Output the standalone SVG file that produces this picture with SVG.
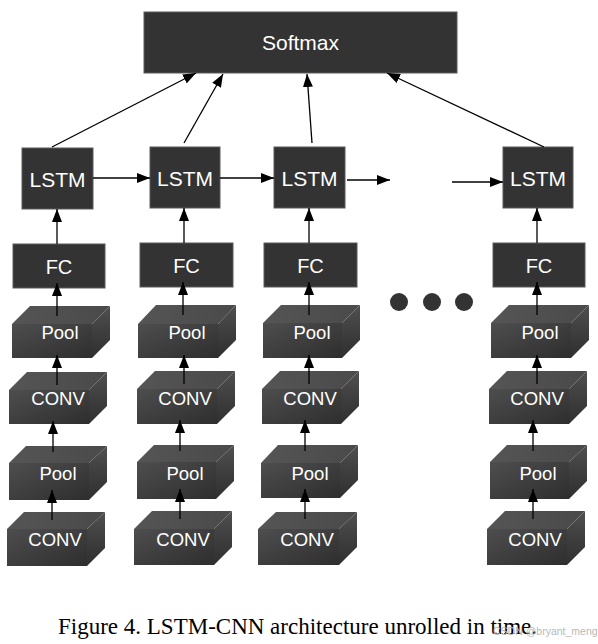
<svg xmlns="http://www.w3.org/2000/svg" width="598" height="644" viewBox="0 0 598 644">
<style>
.box{fill:#333333;stroke:#5a5a5a;stroke-width:1}
.lbl{fill:#ffffff;font-family:"Liberation Sans",Arial,sans-serif;text-anchor:middle}
.big{font-size:21px}
.fc{font-size:20px}
.blk{font-size:18.5px}
.top{fill:url(#gTop)}
.front{fill:url(#gFront)}
.side{fill:url(#gSide)}
.conn line{stroke:#000;stroke-width:1.3;marker-end:url(#ah)}
.dot{fill:#333333}
.cap{font-family:"Liberation Serif","Times New Roman",serif;font-size:23px;fill:#000}
.wm{font-family:"Liberation Sans",Arial,sans-serif;font-size:10.5px;fill:#b8b8b8}
</style>
<defs>
<marker id="ah" markerUnits="userSpaceOnUse" markerWidth="13" markerHeight="10" refX="13" refY="5" orient="auto">
<path d="M0,0 L13,5 L0,10 z" fill="#000"/>
</marker>
<linearGradient id="gTop" x1="0" y1="0" x2="1" y2="0">
<stop offset="0" stop-color="#555555"/><stop offset="1" stop-color="#4a4a4a"/>
</linearGradient>
<linearGradient id="gFront" x1="0" y1="0" x2="1" y2="1">
<stop offset="0" stop-color="#4e4e4e"/><stop offset="1" stop-color="#2e2e2e"/>
</linearGradient>
<linearGradient id="gSide" x1="0" y1="0" x2="0" y2="1">
<stop offset="0" stop-color="#505050"/><stop offset="0.45" stop-color="#404040"/><stop offset="1" stop-color="#2f2f2f"/>
</linearGradient>
</defs>
<rect width="598" height="644" fill="#ffffff"/>

<g id="softmax"><rect class="box" x="144" y="12" width="313" height="61"/><text class="lbl big" x="300.5" y="50">Softmax</text></g>

<g id="lstm1"><rect class="box" x="22" y="148" width="71" height="61"/><text class="lbl big" x="57.5" y="186.5">LSTM</text></g>
<g id="lstm2"><rect class="box" x="150" y="147" width="70" height="61"/><text class="lbl big" x="185" y="185.5">LSTM</text></g>
<g id="lstm3"><rect class="box" x="274" y="147" width="71" height="61"/><text class="lbl big" x="309.5" y="185.5">LSTM</text></g>
<g id="lstm4"><rect class="box" x="503" y="147" width="70" height="61"/><text class="lbl big" x="538" y="185.5">LSTM</text></g>

<g id="fc1"><rect class="box" x="13" y="244" width="92" height="44"/><text class="lbl fc" x="59" y="274">FC</text></g>
<g id="fc2"><rect class="box" x="140" y="243" width="93" height="44"/><text class="lbl fc" x="186.5" y="273">FC</text></g>
<g id="fc3"><rect class="box" x="264" y="243" width="93" height="44"/><text class="lbl fc" x="310.5" y="273">FC</text></g>
<g id="fc4"><rect class="box" x="493" y="243" width="92" height="44"/><text class="lbl fc" x="539" y="273">FC</text></g>

<!-- column 1 blocks -->
<g id="pool1a"><polygon class="top" points="12,324 30,306 110,306 92,324"/><polygon class="side" points="92,324 110,306 110,340 92,358"/><rect class="front" x="12" y="324" width="80" height="34"/><text class="lbl blk" x="60" y="339">Pool</text></g>
<g id="conv1a"><polygon class="top" points="9,390 27,372 107,372 89,390"/><polygon class="side" points="89,390 107,372 107,406 89,424"/><rect class="front" x="9" y="390" width="80" height="34"/><text class="lbl blk" x="58" y="405">CONV</text></g>
<g id="pool1b"><polygon class="top" points="9,463 26,446 107,446 89,463"/><polygon class="side" points="89,463 107,446 107,482 89,500"/><rect class="front" x="9" y="463" width="80" height="37"/><text class="lbl blk" x="58" y="480">Pool</text></g>
<g id="conv1b"><polygon class="top" points="7,529 24,512 105,512 87,529"/><polygon class="side" points="87,529 105,512 105,548 87,566"/><rect class="front" x="7" y="529" width="80" height="37"/><text class="lbl blk" x="55" y="546">CONV</text></g>

<!-- column 2 blocks -->
<g id="pool2a"><polygon class="top" points="138,324 156,305 236,305 218,324"/><polygon class="side" points="218,324 236,305 236,340 218,358"/><rect class="front" x="138" y="324" width="80" height="34"/><text class="lbl blk" x="187" y="339">Pool</text></g>
<g id="conv2a"><polygon class="top" points="137,389 155,371 235,371 217,389"/><polygon class="side" points="217,389 235,371 235,406 217,424"/><rect class="front" x="137" y="389" width="80" height="35"/><text class="lbl blk" x="185" y="405">CONV</text></g>
<g id="pool2b"><polygon class="top" points="137,462 154,445 234,445 216,462"/><polygon class="side" points="216,462 234,445 234,481 216,499"/><rect class="front" x="137" y="462" width="79" height="37"/><text class="lbl blk" x="185" y="480">Pool</text></g>
<g id="conv2b"><polygon class="top" points="134,529 152,511 232,511 214,529"/><polygon class="side" points="214,529 232,511 232,547 214,565"/><rect class="front" x="134" y="529" width="80" height="36"/><text class="lbl blk" x="183" y="546">CONV</text></g>

<!-- column 3 blocks -->
<g id="pool3a"><polygon class="top" points="263,323 281,305 360,305 342,323"/><polygon class="side" points="342,323 360,305 360,340 342,358"/><rect class="front" x="263" y="323" width="79" height="35"/><text class="lbl blk" x="312" y="339">Pool</text></g>
<g id="conv3a"><polygon class="top" points="262,389 280,371 359,371 341,389"/><polygon class="side" points="341,389 359,371 359,406 341,424"/><rect class="front" x="262" y="389" width="79" height="35"/><text class="lbl blk" x="310" y="405">CONV</text></g>
<g id="pool3b"><polygon class="top" points="261,463 278,445 358,445 340,463"/><polygon class="side" points="340,463 358,445 358,480 340,498"/><rect class="front" x="261" y="463" width="79" height="35"/><text class="lbl blk" x="310" y="480">Pool</text></g>
<g id="conv3b"><polygon class="top" points="258,529 276,512 357,512 339,529"/><polygon class="side" points="339,529 357,512 357,547 339,565"/><rect class="front" x="258" y="529" width="81" height="36"/><text class="lbl blk" x="307" y="546">CONV</text></g>

<!-- column 4 blocks -->
<g id="pool4a"><polygon class="top" points="491,323 509,305 589,305 571,323"/><polygon class="side" points="571,323 589,305 589,340 571,358"/><rect class="front" x="491" y="323" width="80" height="35"/><text class="lbl blk" x="540" y="339">Pool</text></g>
<g id="conv4a"><polygon class="top" points="489,389 507,371 587,371 569,389"/><polygon class="side" points="569,389 587,371 587,406 569,424"/><rect class="front" x="489" y="389" width="80" height="35"/><text class="lbl blk" x="537" y="405">CONV</text></g>
<g id="pool4b"><polygon class="top" points="490,462 507,445 587,445 569,462"/><polygon class="side" points="569,462 587,445 587,481 569,499"/><rect class="front" x="490" y="462" width="79" height="37"/><text class="lbl blk" x="538" y="480">Pool</text></g>
<g id="conv4b"><polygon class="top" points="487,529 505,511 585,511 567,529"/><polygon class="side" points="567,529 585,511 585,547 567,565"/><rect class="front" x="487" y="529" width="80" height="36"/><text class="lbl blk" x="535" y="546">CONV</text></g>

<g id="ellipsis"><circle class="dot" cx="399" cy="302" r="9"/><circle class="dot" cx="432" cy="302" r="9"/><circle class="dot" cx="464" cy="302" r="9"/></g>

<g id="connectors" class="conn">
<line x1="52" y1="147" x2="196" y2="73"/>
<line x1="184" y1="143" x2="223" y2="74"/>
<line x1="312" y1="143" x2="307" y2="74"/>
<line x1="544" y1="147" x2="387" y2="73"/>
<line x1="93" y1="178" x2="150" y2="178"/>
<line x1="220" y1="178" x2="274" y2="178"/>
<line x1="347" y1="180" x2="390" y2="180"/>
<line x1="452" y1="182" x2="503" y2="182"/>
<line x1="57" y1="244" x2="57" y2="209"/>
<line x1="57" y1="316" x2="57" y2="283"/>
<line x1="57" y1="385" x2="57" y2="355"/>
<line x1="53" y1="452" x2="53" y2="421"/>
<line x1="52" y1="520" x2="52" y2="490"/>
<line x1="184" y1="243" x2="184" y2="208"/>
<line x1="183" y1="315" x2="183" y2="282"/>
<line x1="184" y1="384" x2="184" y2="355"/>
<line x1="180" y1="451" x2="180" y2="420"/>
<line x1="180" y1="519" x2="180" y2="489"/>
<line x1="309" y1="243" x2="309" y2="208"/>
<line x1="309" y1="315" x2="309" y2="282"/>
<line x1="309" y1="384" x2="309" y2="355"/>
<line x1="305" y1="451" x2="305" y2="420"/>
<line x1="305" y1="519" x2="305" y2="489"/>
<line x1="537" y1="243" x2="537" y2="208"/>
<line x1="537" y1="315" x2="537" y2="282"/>
<line x1="537" y1="384" x2="537" y2="355"/>
<line x1="533" y1="451" x2="533" y2="420"/>
<line x1="533" y1="519" x2="533" y2="489"/>
</g>

<text class="cap" x="58" y="634">Figure 4. LSTM-CNN architecture unrolled in time.</text>
<text class="wm" x="493" y="635">CSDN @bryant_meng</text>
</svg>
